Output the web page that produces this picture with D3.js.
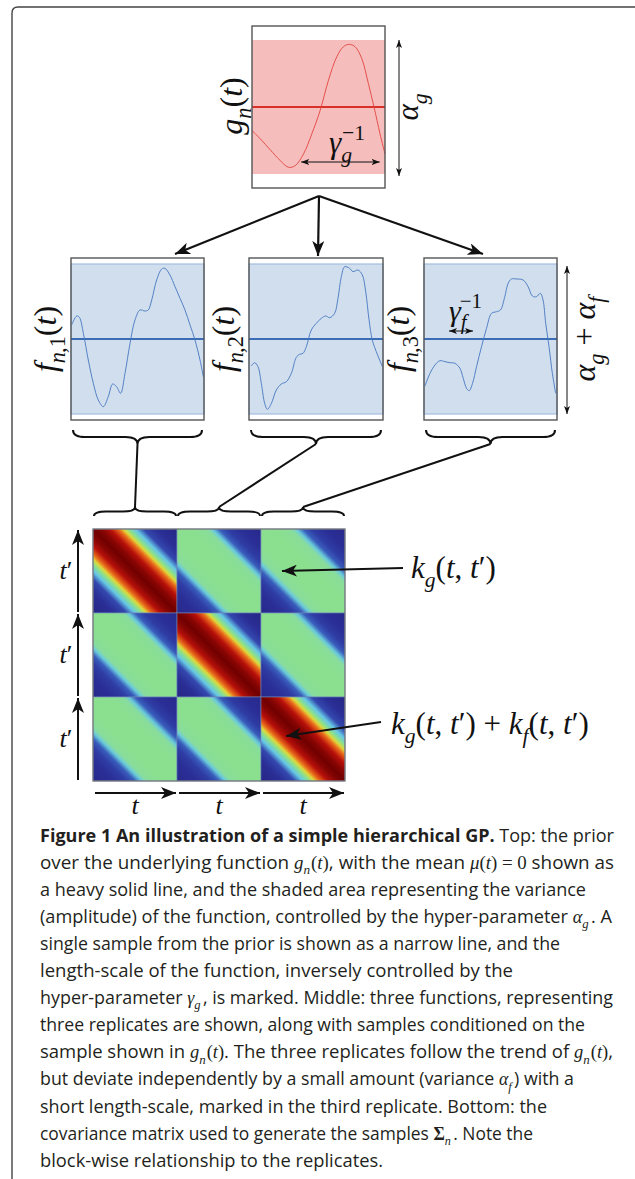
<!DOCTYPE html>
<html>
<head>
<meta charset="utf-8">
<script src="https://cdn.jsdelivr.net/npm/d3@7"></script>
<style>
  body { margin: 0; background: #fff; }
</style>
</head>
<body>
<div id="container"></div>
<script>
/* DATA */
// sample drawn from the prior g_n(t): [t, value], value in units of the shaded band (+-1)
const gSample = [[0,-0.35],[0.0625,-0.475],[0.1375,-0.64],[0.2125,-0.8],[0.275,-0.9],[0.325,-0.875],
  [0.3875,-0.7],[0.45,-0.4],[0.5125,-0.05],[0.575,0.4],[0.6375,0.75],[0.6875,0.9],[0.73,0.935],
  [0.775,0.9],[0.825,0.725],[0.875,0.35],[0.9175,0],[0.9625,-0.4],[1,-0.7]];

// the three replicates f_n,1 .. f_n,3
const f1 = [[0.005,0.187],[0.043,0.307],[0.063,0.289],[0.093,0.076],[0.13,-0.28],[0.168,-0.591],
  [0.205,-0.813],[0.243,-0.902],[0.28,-0.769],[0.313,-0.6],[0.343,-0.636],[0.373,-0.724],[0.406,-0.458],
  [0.444,-0.058],[0.481,0.253],[0.519,0.387],[0.556,0.373],[0.581,0.387],[0.607,0.52],[0.644,0.787],
  [0.682,0.933],[0.707,0.942],[0.744,0.853],[0.782,0.698],[0.82,0.542],[0.857,0.387],[0.895,0.187],
  [0.932,-0.013],[0.97,-0.28],[0.995,-0.502]];
const f2 = [[0.017,-0.36],[0.042,-0.316],[0.067,-0.369],[0.092,-0.591],[0.117,-0.858],[0.137,-0.938],
  [0.167,-0.858],[0.204,-0.68],[0.241,-0.6],[0.279,-0.569],[0.316,-0.458],[0.353,-0.244],[0.378,-0.204],
  [0.403,-0.191],[0.428,-0.102],[0.465,0.12],[0.502,0.209],[0.54,0.276],[0.572,0.307],[0.602,0.284],
  [0.639,0.342],[0.664,0.542],[0.689,0.831],[0.714,0.964],[0.751,0.942],[0.776,0.898],[0.813,0.92],
  [0.846,0.853],[0.871,0.631],[0.896,0.253],[0.92,-0.013],[0.95,-0.169],[0.975,-0.28],[0.995,-0.369]];
const f3 = [[0.0075,-0.627],[0.045,-0.458],[0.0825,-0.347],[0.12,-0.289],[0.1575,-0.302],[0.195,-0.316],
  [0.2325,-0.324],[0.27,-0.391],[0.295,-0.524],[0.32,-0.658],[0.34,-0.689],[0.365,-0.591],[0.395,-0.369],
  [0.4325,-0.102],[0.47,0.142],[0.5075,0.342],[0.545,0.364],[0.575,0.387],[0.6075,0.564],[0.6325,0.742],
  [0.6575,0.8],[0.695,0.8],[0.745,0.787],[0.7825,0.698],[0.815,0.573],[0.845,0.564],[0.875,0.609],
  [0.895,0.52],[0.915,0.209],[0.94,-0.102],[0.965,-0.458],[0.99,-0.724]];
const replicates = [f1, f2, f3];

// covariance blocks: value vs. |t - t'| (fraction of a block)
const profileDist = [0, 0.1, 0.2, 0.3, 0.36, 0.42, 0.5, 0.6, 0.75, 1.0];
const diagProfile = [1.0, 0.96, 0.88, 0.74, 0.62, 0.5, 0.37, 0.2, 0.1, 0.04];   // k_g + k_f
const offProfile  = [0.5, 0.5, 0.49, 0.47, 0.44, 0.38, 0.24, 0.16, 0.1, 0.06];  // k_g
const blockIds = [0, 1, 2];

// jet-like colour map
const cmapValues = [0, 0.1, 0.2, 0.3, 0.37, 0.44, 0.5, 0.58, 0.66, 0.76, 0.88, 1.0];
const cmapColors = ["#241e78","#2a2f96","#3347ad","#3f7fcf","#66c7e6","#87dca0","#8ae08e",
                    "#c8e05a","#f2d21e","#e8531a","#b8100a","#700000"];

// caption
const captionLines = [
  [["b","Figure 1 An illustration of a simple hierarchical GP."],["r"," Top: the prior"]],
  [["r","over the underlying function "],["m","g"],["s","n"],["mr","(", 1],["m","t"],["mr",")"],["r",", with the mean "],["m","μ"],["mr","("],["m","t"],["mr",") = 0"],["r"," shown as"]],
  [["r","a heavy solid line, and the shaded area representing the variance"]],
  [["r","(amplitude) of the function, controlled by the hyper-parameter "],["m","α"],["s","g"],["r",". A", 2.5]],
  [["r","single sample from the prior is shown as a narrow line, and the"]],
  [["r","length-scale of the function, inversely controlled by the"]],
  [["r","hyper-parameter "],["m","γ"],["s","g"],["r",", is marked. Middle: three functions, representing", 2.5]],
  [["r","three replicates are shown, along with samples conditioned on the"]],
  [["r","sample shown in "],["m","g"],["s","n"],["mr","(", 1],["m","t"],["mr",")"],["r",". The three replicates follow the trend of "],["m","g"],["s","n"],["mr","(", 1],["m","t"],["mr",")"],["r",","]],
  [["r","but deviate independently by a small amount (variance "],["m","α"],["s","f"],["r",") with a", 2.5]],
  [["r","short length-scale, marked in the third replicate. Bottom: the"]],
  [["r","covariance matrix used to generate the samples "],["bm","Σ"],["s","n"],["r",". Note the", 2.5]],
  [["r","block-wise relationship to the replicates."]]
];
const captionWidths = [574, 574, 546, 572, 520, 473, 573, 545, 573, 534, 507, 493, 343];

/* LAYOUT */
const width = 635, height = 1179;
const SERIF = "'Liberation Serif','DejaVu Serif',serif";
const SANS = "'Open Sans','Noto Sans',sans-serif";
const topBox = {x0: 252, x1: 385, y0: 26, y1: 188, b0: 174, b1: 40};
const midBox = {y0: 258, y1: 420, b0: 414, b1: 264};
const midX = [[71, 204], [249, 383], [424, 557]];
const mat = {x0: 93, y0: 529, size: 252};

const svg = d3.select("#container").append("svg")
  .attr("width", width).attr("height", height);

// arrow heads
const defs = svg.append("defs");
function marker(id, len, half, notch) {
  defs.append("marker").attr("id", id)
    .attr("viewBox", `${-len} ${-half} ${len + 1} ${half * 2}`)
    .attr("refX", 0).attr("refY", 0)
    .attr("markerWidth", len + 1).attr("markerHeight", half * 2)
    .attr("markerUnits", "userSpaceOnUse")
    .attr("orient", "auto-start-reverse")
    .append("path").attr("d", `M0,0L${-len},${-half}L${-len + notch},0L${-len},${half}Z`)
    .attr("fill", "#111");
}
marker("big", 15, 6, 4);
marker("small", 8, 3, 2);

// rich text helper (sub/superscripts)
function addParts(text, parts, fs) {
  let shift = 0;
  parts.forEach(([st, s, dx]) => {
    const ts = text.append("tspan").text(s);
    let target = 0;
    if (st === "s" || st === "sr") target = fs * 0.28;
    if (st === "p") target = -fs * 0.42;
    if (target - shift !== 0) ts.attr("dy", target - shift);
    shift = target;
    if (dx) ts.attr("dx", dx);
    const small = (st === "s" || st === "sr" || st === "p");
    ts.attr("font-size", small ? fs * 0.7 : fs);
    if (st === "b" || st === "r") ts.attr("font-family", SANS);
    else ts.attr("font-family", SERIF);
    if (st === "b" || st === "bm") ts.attr("font-weight", "bold");
    if (st === "m" || st === "s") ts.attr("font-style", "italic");
  });
  return text;
}
function label(x, y, parts, fs, rotate, anchor) {
  const t = svg.append("text")
    .attr("text-anchor", anchor || "middle")
    .attr("fill", "#111")
    .attr("transform", `translate(${x},${y})` + (rotate ? " rotate(-90)" : ""));
  return addParts(t, parts, fs);
}
function arrow(x1, y1, x2, y2, head, both, w) {
  svg.append("line")
    .attr("x1", x1).attr("y1", y1).attr("x2", x2).attr("y2", y2)
    .attr("stroke", "#111").attr("stroke-width", w)
    .attr("marker-end", `url(#${head})`)
    .attr("marker-start", both ? `url(#${head})` : null);
}

// outer frame
svg.append("path")
  .attr("d", `M12,${height} L12,13 Q12,7 18,7 L${width},7`)
  .attr("fill", "none").attr("stroke", "#444").attr("stroke-width", 1.4);

/* TOP PANEL: prior g_n(t) */
const xTop = d3.scaleLinear().domain([0, 1]).range([topBox.x0, topBox.x1]);
const yTop = d3.scaleLinear().domain([-1, 1]).range([topBox.b0, topBox.b1]);
const gTop = svg.append("g");
gTop.append("rect").attr("x", topBox.x0).attr("y", topBox.y0)
  .attr("width", topBox.x1 - topBox.x0).attr("height", topBox.y1 - topBox.y0)
  .attr("fill", "#fff");
gTop.append("rect").attr("x", xTop(0)).attr("y", yTop(1))
  .attr("width", xTop(1) - xTop(0)).attr("height", yTop(-1) - yTop(1))
  .attr("fill", "#f6bdbd");
gTop.append("line").attr("x1", xTop(0)).attr("x2", xTop(1))
  .attr("y1", yTop(0)).attr("y2", yTop(0))
  .attr("stroke", "#d9302a").attr("stroke-width", 2);
gTop.append("path").datum(gSample)
  .attr("d", d3.line().x(d => xTop(d[0])).y(d => yTop(d[1])).curve(d3.curveCatmullRom))
  .attr("fill", "none").attr("stroke", "#e0453e").attr("stroke-width", 0.9);
gTop.append("rect").attr("x", topBox.x0).attr("y", topBox.y0)
  .attr("width", topBox.x1 - topBox.x0).attr("height", topBox.y1 - topBox.y0)
  .attr("fill", "none").attr("stroke", "#555").attr("stroke-width", 1.4);

label(242, (topBox.y0 + topBox.y1) / 2 - 1, [["m","g"],["s","n"],["mr","("],["m","t"],["mr",")"]], 32, true);
arrow(topBox.x1 + 14, yTop(0), topBox.x1 + 14, yTop(1), "small", false, 1);
arrow(topBox.x1 + 14, yTop(0), topBox.x1 + 14, yTop(-1) + 2, "small", false, 1);
label(418, yTop(0), [["m","α"],["s","g"]], 31, true);
arrow(xTop(0.37), 162, xTop(0.96), 162, "small", true, 1);
label(329, 153, [["m","γ"],["s","g"],["p","−1", -10]], 31, false, "start");

/* ARROWS TO REPLICATES */
const fork = [(topBox.x0 + topBox.x1) / 2 + 0.5, 196];
const forkTips = [[175, 254], [318, 256], [483, 254]];
forkTips.forEach(t => arrow(fork[0], fork[1], t[0], t[1], "big", false, 2.2));

/* MIDDLE PANELS: replicates */
const yMid = d3.scaleLinear().domain([-1, 1]).range([midBox.b0, midBox.b1]);
replicates.forEach((data, i) => {
  const [x0, x1] = midX[i];
  const x = d3.scaleLinear().domain([0, 1]).range([x0, x1]);
  const g = svg.append("g");
  g.append("rect").attr("x", x0).attr("y", midBox.y0)
    .attr("width", x1 - x0).attr("height", midBox.y1 - midBox.y0).attr("fill", "#fff");
  g.append("rect").attr("x", x(0)).attr("y", yMid(1))
    .attr("width", x(1) - x(0)).attr("height", yMid(-1) - yMid(1))
    .attr("fill", "#d0deee").attr("stroke", "#a4bfe0").attr("stroke-width", 1.2);
  g.append("line").attr("x1", x(0)).attr("x2", x(1))
    .attr("y1", yMid(0)).attr("y2", yMid(0))
    .attr("stroke", "#3a6db5").attr("stroke-width", 2);
  g.append("path").datum(data)
    .attr("d", d3.line().x(d => x(d[0])).y(d => yMid(d[1])).curve(d3.curveCatmullRom))
    .attr("fill", "none").attr("stroke", "#4677c0").attr("stroke-width", 0.9);
  g.append("rect").attr("x", x0).attr("y", midBox.y0)
    .attr("width", x1 - x0).attr("height", midBox.y1 - midBox.y0)
    .attr("fill", "none").attr("stroke", "#555").attr("stroke-width", 1.4);
  label(x0 - 15, yMid(0), [["m","f"],["s","n"],["sr",",", -1],["sr",String(i + 1)],["mr","("],["m","t"],["mr",")"]], 32, true);
});
// alpha_g + alpha_f span
const ax = midX[2][1] + 10;
arrow(ax, yMid(0), ax, yMid(1) + 2, "small", false, 1);
arrow(ax, yMid(0), ax, yMid(-1), "small", false, 1);
label(595, yMid(0), [["m","α"],["s","g"],["mr"," + "],["m","α"],["s","f"]], 32, true);
// short length-scale gamma_f
arrow(449, 331, 473, 331, "small", true, 1);
label(449, 321, [["m","γ"],["s","f"],["p","−1", -7]], 30, false, "start");

/* BRACES AND LINKS */
function brace(x0, x1, y, h) {
  const xm = (x0 + x1) / 2, q = h / 2, r = Math.min(12, (x1 - x0) / 6);
  return `M${x0},${y} Q${x0},${y + q} ${x0 + r},${y + q} L${xm - r},${y + q} ` +
         `Q${xm},${y + q} ${xm},${y + h} Q${xm},${y + q} ${xm + r},${y + q} ` +
         `L${x1 - r},${y + q} Q${x1},${y + q} ${x1},${y}`;
}
const cell = mat.size / 3;
const upperTips = midX.map(([x0, x1]) => [(x0 + x1) / 2, 444]);
const lowerTips = blockIds.map(i => [mat.x0 + cell * (i + 0.5), 507]);
midX.forEach(([x0, x1]) => {
  svg.append("path").attr("d", brace(x0 + 2, x1 - 2, 430, 14))
    .attr("fill", "none").attr("stroke", "#111").attr("stroke-width", 2);
});
blockIds.forEach(i => {
  svg.append("path").attr("d", brace(mat.x0 + cell * i + 1, mat.x0 + cell * (i + 1) - 1, 516, -9))
    .attr("fill", "none").attr("stroke", "#111").attr("stroke-width", 2);
  svg.append("line")
    .attr("x1", upperTips[i][0]).attr("y1", upperTips[i][1])
    .attr("x2", lowerTips[i][0]).attr("y2", lowerTips[i][1])
    .attr("stroke", "#111").attr("stroke-width", 2);
});

/* COVARIANCE MATRIX */
const cmap = d3.scaleLinear().domain(cmapValues).range(cmapColors).interpolate(d3.interpolateRgb);
const band = d3.scaleBand().domain(blockIds).range([0, mat.size]);
function gradient(id, profile) {
  const grad = defs.append("linearGradient").attr("id", id)
    .attr("x1", 0).attr("y1", 1).attr("x2", 1).attr("y2", 0);
  const stops = [];
  profileDist.forEach((d, k) => {
    stops.push([0.5 - d / 2, profile[k]]);
    if (d > 0) stops.push([0.5 + d / 2, profile[k]]);
  });
  stops.sort((a, b) => a[0] - b[0]);
  grad.selectAll("stop").data(stops).join("stop")
    .attr("offset", d => d[0]).attr("stop-color", d => cmap(d[1]));
}
gradient("diagBlock", diagProfile);
gradient("offBlock", offProfile);

const cells = [];
blockIds.forEach(r => blockIds.forEach(c => cells.push({r, c})));
const gm = svg.append("g").attr("transform", `translate(${mat.x0},${mat.y0})`);
gm.selectAll("rect.block").data(cells).join("rect")
  .attr("class", "block")
  .attr("x", d => band(d.c)).attr("y", d => band(d.r))
  .attr("width", band.bandwidth()).attr("height", band.bandwidth())
  .attr("fill", d => d.r === d.c ? "url(#diagBlock)" : "url(#offBlock)")
  .attr("stroke", "#6f86b8").attr("stroke-width", 0.6);
gm.append("rect").attr("width", mat.size).attr("height", mat.size)
  .attr("fill", "none").attr("stroke", "#777").attr("stroke-width", 1.2);

// axes arrows t' (left) and t (bottom)
blockIds.forEach(i => {
  const y0 = mat.y0 + band(i), x0 = mat.x0 + band(i);
  arrow(78, y0 + cell - 1, 78, y0 + 1, "big", false, 2);
  label(66, y0 + cell / 2 + 8, [["m","t"],["mr","′"]], 26, false);
  arrow(x0 + 2, 793, x0 + cell - 1, 793, "big", false, 2);
  label(x0 + cell / 2, 814, [["m","t"]], 26, false);
});

// kernel annotations
arrow(403, 568, mat.x0 + band(2) + cell * 0.25, 571, "big", false, 2);
label(411, 578, [["m","k"],["s","g"],["mr","("],["m","t"],["mr",", "],["m","t"],["mr","′)"]], 31, false, "start");
arrow(381, 722, mat.x0 + band(2) + cell * 0.3, 736, "big", false, 2);
label(391, 734, [["m","k"],["s","g"],["mr","("],["m","t"],["mr",", "],["m","t"],["mr","′)  +  "],
  ["m","k"],["s","f"],["mr","("],["m","t"],["mr",", "],["m","t"],["mr","′)"]], 31, false, "start");

/* CAPTION */
captionLines.forEach((parts, i) => {
  const t = svg.append("text")
    .attr("x", 40).attr("y", 842 + i * 27.05)
    .attr("fill", "#231f20")
    .attr("textLength", captionWidths[i])
    .attr("lengthAdjust", "spacingAndGlyphs");
  addParts(t, parts, 18.5);
});
</script>
</body>
</html>
